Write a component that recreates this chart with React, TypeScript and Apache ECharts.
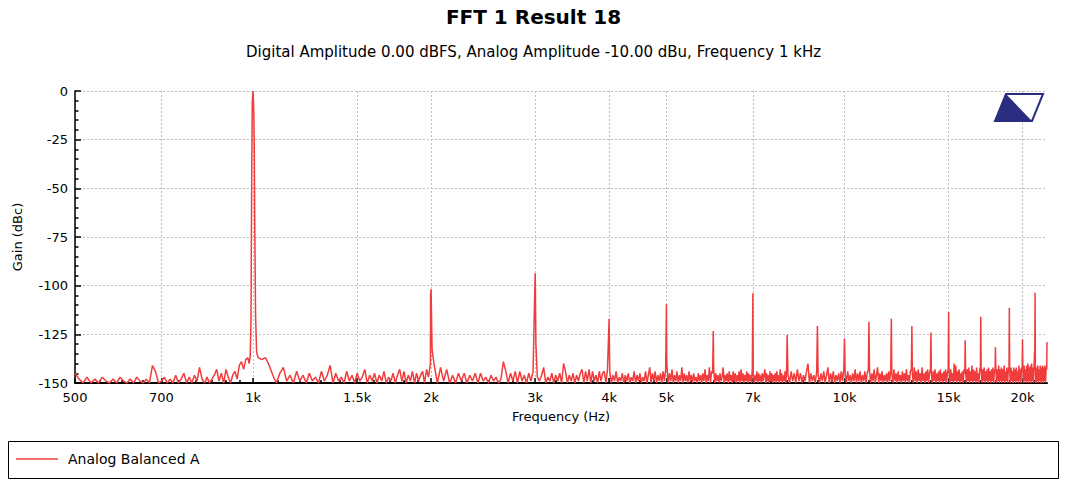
import React, { useEffect, useRef } from "react";
import * as echarts from "echarts";

const FONT = "DejaVu Sans";
const RED = "#f03c3c";
const NAVY = "#2b2e80";

const TITLE = "FFT 1 Result 18";
const SUBTITLE = "Digital Amplitude 0.00 dBFS, Analog Amplitude -10.00 dBu, Frequency 1 kHz";
const SERIES_NAME = "Analog Balanced A";
const X_NAME = "Frequency (Hz)";
const Y_NAME = "Gain (dBc)";

const xMajorTicks = [500, 700, 1000, 1500, 2000, 3000, 4000, 5000, 7000, 10000, 15000, 20000];
const xMinorTicks = [550, 600, 650, 750, 800, 850, 900, 950, 1100, 1200, 1300, 1400, 1600, 1700, 1800, 1900,
  2250, 2500, 2750, 3250, 3500, 3750, 4250, 4500, 4750, 5500, 6000, 6500, 7500, 8000, 8500, 9000, 9500,
  11000, 12000, 13000, 14000, 16000, 17000, 18000, 19000, 21000];

// FFT noise floor; each segment is a run of bins (start Hz, bin step Hz, level dB)
const segA = { start: 500, step: 8, db: [
  -145, -148, -150, -147, -150, -148, -150, -147, -149, -150,
  -148, -150, -147, -149, -150, -148, -150, -147, -149, -150,
  -148, -150, -141, -144, -150, -149, -147, -150, -148, -150,
  -146, -150, -148, -145, -150, -147, -150, -146, -149, -142,
  -148, -150, -147, -150, -148, -146, -143, -149, -145, -150,
  -143, -147, -150, -146, -144, -148, -141, -139, -143, -138,
  -137] };
const segB = { start: 1020, step: 15, db: [
  -137, -138, -137, -141, -146, -150, -145, -142, -149, -146,
  -150, -144, -149, -146, -150, -145, -149, -147, -150, -144,
  -149, -146, -141, -150, -145, -149, -147, -150, -144, -149,
  -146, -150, -145, -149, -147, -143, -150, -146, -149, -145,
  -150, -146, -149, -144, -150, -147, -149, -145, -150, -146,
  -143, -149, -144, -150, -146, -149, -144, -150, -145, -149,
  -146, -144, -150, -143, -147, -140] };
const segC = { start: 2025, step: 25, db: [
  -141, -150, -142, -149, -143, -150, -146, -150, -145, -149,
  -145, -150, -146, -149, -145, -150, -145, -149, -147, -150,
  -146, -149, -147, -150, -148, -139, -144, -150, -145, -149,
  -144, -150, -144, -149, -146, -150, -145, -149, -144, -150,
  -147, -149, -146, -142, -150, -147, -149, -145, -150, -146,
  -149, -145, -150, -140, -144, -150, -146, -149, -145, -150,
  -146, -149, -145, -143, -150, -144, -149, -143, -150, -144,
  -149, -146, -150, -144, -149, -145, -144, -150, -143] };
const segD1 = { start: 4010, step: 25, db: [
  -144, -150, -146, -149, -144, -150, -147, -149, -145, -150,
  -146, -149, -145, -150, -147, -149, -144, -150, -146, -149,
  -145, -150, -147, -149, -144, -150, -146, -142, -150, -145,
  -149, -144, -150, -146, -149, -145, -150, -144, -149, -143,
  -141, -150, -145, -149, -143, -150, -146, -149, -144, -150,
  -146, -149, -142, -150, -145, -149, -146, -150, -144, -149,
  -146, -150, -145, -149, -147, -150, -145, -149, -146, -150,
  -145, -149, -143, -150, -146, -149, -142, -150, -144, -145] };
const segD2 = { start: 6010, step: 25, db: [
  -143, -150, -145, -149, -146, -150, -145, -149, -147, -142,
  -150, -146, -149, -145, -150, -144, -149, -146, -150, -144,
  -149, -145, -150, -146, -149, -144, -150, -143, -149, -145,
  -150, -146, -149, -144, -150, -145, -149, -146, -150, -143,
  -145, -150, -146, -149, -144, -150, -145, -149, -146, -150,
  -145, -149, -146, -143, -150, -145, -149, -146, -150, -144,
  -149, -145, -150, -146, -149, -145, -150, -144, -149, -146,
  -150, -143, -149, -145, -150, -146, -149, -144, -150, -142] };
const segE1 = { start: 8025, step: 50, db: [
  -146, -150, -144, -149, -145, -150, -143, -149, -145, -150,
  -146, -149, -144, -140, -150, -145, -149, -146, -150, -144,
  -146, -150, -145, -149, -144, -150, -146, -142, -150, -145,
  -149, -144, -150, -146, -149, -145, -150, -144, -149, -143,
  -145, -150, -144, -149, -146, -150, -145, -149, -143, -150,
  -145, -149, -144, -150, -146, -149, -144, -150, -145, -143,
  -144, -150, -145, -149, -143, -150, -146, -142, -150, -145,
  -149, -144, -150, -146, -149, -145, -150, -144, -149, -143] };
const segE2 = { start: 12025, step: 50, db: [
  -145, -150, -143, -149, -145, -150, -144, -149, -146, -150,
  -144, -149, -145, -150, -143, -149, -146, -150, -144, -143,
  -145, -150, -142, -149, -144, -150, -143, -149, -145, -150,
  -142, -149, -145, -150, -144, -149, -143, -150, -145, -143,
  -145, -150, -144, -149, -143, -150, -145, -149, -144, -150,
  -143, -149, -145, -150, -144, -149, -143, -150, -145, -143,
  -144, -150, -143, -149, -145, -150, -140, -149, -141, -150,
  -144, -149, -143, -150, -145, -149, -144, -150, -143, -145] };
const segF1 = { start: 16025, step: 50, db: [
  -144, -150, -143, -149, -142, -150, -144, -149, -141, -150,
  -143, -149, -144, -150, -142, -149, -145, -150, -143, -142,
  -144, -150, -143, -149, -142, -150, -144, -149, -143, -150,
  -142, -149, -144, -150, -143, -149, -142, -150, -144, -143,
  -142, -150, -143, -149, -141, -150, -143, -149, -142, -150,
  -143, -149, -141, -150, -144, -149, -142, -150, -143, -142] };
const segF2 = { start: 19025, step: 50, db: [
  -143, -150, -142, -149, -144, -150, -142, -149, -143, -150,
  -142, -149, -144, -150, -141, -149, -143, -150, -142, -143,
  -142, -150, -141, -149, -143, -150, -141, -149, -140, -150,
  -142, -149, -141, -150, -140, -149, -142, -150, -141, -142,
  -141, -150, -142, -149, -141, -150, -143, -149, -141, -150,
  -142, -149, -141, -150, -142, -149, -141, -150, -142, -143] };

// Harmonic peaks
const harmonicFreqs = [2000, 3000, 4000, 5000, 6000, 7000, 8000, 9000, 10000, 11000, 12000,
  13000, 14000, 15000, 16000, 17000, 18000, 19000, 20000, 21000, 22000];
const harmonicDb = [-101.8, -93.6, -117, -109.6, -123.3, -103.9, -125.3, -120.7, -127, -118.5, -117,
  -120.7, -124, -113.5, -128, -116, -131.7, -111.3, -127.5, -103.6, -129];

// Fundamental and peak skirts [Hz, dB]
const skirtPoints: [number, number][] = [
  [985, -140], [989, -136], [992, -118], [995, -40], [997, -6], [1000, 0], [1003, -10.6], [1005, -32],
  [1007, -74], [1010, -116], [1014, -134],
  [1996, -105], [2008, -133], [2995, -101.8], [3008, -130], [4006, -135], [5006, -138],
  [8010, -134], [10012, -133], [14015, -136], [20960, -134],
];

function buildData(): [number, number][] {
  const peakSet = new Set(harmonicFreqs);
  const noise: [number, number][] = [];
  [segA, segB, segC, segD1, segD2, segE1, segE2, segF1, segF2].forEach((s) => {
    s.db.forEach((v, i) => {
      const f = s.start + i * s.step;
      if (!peakSet.has(f)) noise.push([f, v]);
    });
  });
  const peaks: [number, number][] = harmonicFreqs.map((f, i) => [f, harmonicDb[i]]);
  return [...noise, ...peaks, ...skirtPoints].sort((a, b) => a[0] - b[0]);
}

function fmtFreq(v: number): string {
  return v >= 1000 ? `${+(v / 1000).toFixed(1)}k` : `${v}`;
}

export default function App() {
  const ref = useRef<HTMLDivElement>(null);
  useEffect(() => {
    if (!ref.current) return;
    const chart = echarts.init(ref.current, null, { renderer: "svg" });
    const gridColor = "#bdbdbd";
    const gridBox = { left: 75, right: 20, top: 91, bottom: 102, containLabel: false };
    chart.setOption({
      animation: false,
      backgroundColor: "#ffffff",
      textStyle: { fontFamily: FONT },
      title: {
        left: "center",
        top: 2,
        text: TITLE,
        subtext: SUBTITLE,
        itemGap: 17,
        textStyle: { fontSize: 20, fontWeight: "bold", color: "#000", fontFamily: FONT },
        subtextStyle: { fontSize: 15, color: "#000", fontFamily: FONT },
      },
      grid: [gridBox, { ...gridBox }],
      legend: {
        left: 11,
        top: 447,
        itemWidth: 42,
        itemHeight: 1.5,
        selectedMode: false,
        data: [{ name: SERIES_NAME, icon: "rect" }],
        textStyle: { fontSize: 14, color: "#000", fontFamily: FONT, padding: [0, 0, 0, 5] },
      },
      xAxis: [
        {
          type: "log",
          gridIndex: 0,
          logBase: 10,
          min: 500,
          max: 22000,
          name: X_NAME,
          nameLocation: "middle",
          nameGap: 27,
          nameTextStyle: { fontSize: 13, color: "#000", fontFamily: FONT },
          axisLine: { show: true, onZero: false, lineStyle: { color: "#000", width: 2 } },
          axisTick: { show: true, inside: true, length: 5, customValues: xMajorTicks, lineStyle: { color: "#000", width: 1.5 } },
          axisLabel: { customValues: xMajorTicks, formatter: (v: number) => fmtFreq(v), fontSize: 13, color: "#000", margin: 8, fontFamily: FONT },
          splitLine: { show: true, lineStyle: { color: gridColor, type: [2, 2], width: 1 } },
        },
        {
          type: "log",
          gridIndex: 1,
          logBase: 10,
          min: 500,
          max: 22000,
          position: "bottom",
          axisLine: { show: false, onZero: false },
          axisLabel: { show: false },
          splitLine: { show: false },
          axisTick: { show: true, inside: true, length: 3, customValues: xMinorTicks, lineStyle: { color: "#000", width: 1.5 } },
        },
      ],
      yAxis: [
        {
          type: "value",
          gridIndex: 0,
          min: -150,
          max: 0,
          interval: 25,
          name: Y_NAME,
          nameLocation: "middle",
          nameGap: 51,
          nameTextStyle: { fontSize: 13, color: "#000", fontFamily: FONT },
          axisLine: { show: true, lineStyle: { color: "#000", width: 1.5 } },
          axisTick: { show: true, inside: true, length: 6, lineStyle: { color: "#000", width: 1.5 } },
          minorTick: { show: true, splitNumber: 5, length: 3.5, lineStyle: { color: "#000", width: 1.5 } },
          axisLabel: { fontSize: 13, color: "#000", margin: 7, fontFamily: FONT },
          splitLine: { show: true, lineStyle: { color: gridColor, type: [2, 2], width: 1 } },
        },
        {
          type: "value",
          gridIndex: 1,
          min: -150,
          max: 0,
          show: false,
        },
      ],
      series: [
        {
          type: "line",
          name: SERIES_NAME,
          xAxisIndex: 0,
          yAxisIndex: 0,
          data: buildData(),
          symbol: "none",
          showSymbol: false,
          clip: true,
          lineStyle: { color: RED, width: 1.5 },
          itemStyle: { color: RED },
          z: 3,
        },
      ],
      graphic: [
        {
          type: "rect",
          silent: true,
          shape: { x: 8.5, y: 441.5, width: 1050, height: 37 },
          style: { fill: "none", stroke: "#000", lineWidth: 1 },
        },
        {
          type: "polygon",
          silent: true,
          z: 100,
          shape: { points: [[1006, 94], [1043, 94], [1032, 121], [995, 121]] },
          style: { fill: "#fff", stroke: NAVY, lineWidth: 2 },
        },
        {
          type: "polygon",
          silent: true,
          z: 101,
          shape: { points: [[1006, 94], [1032, 121], [995, 121]] },
          style: { fill: NAVY },
        },
      ],
    });
    return () => chart.dispose();
  }, []);
  return (
    <div
      ref={ref}
      style={{ position: "fixed", left: 0, top: 0, width: 1067, height: 485, background: "#fff" }}
    />
  );
}
